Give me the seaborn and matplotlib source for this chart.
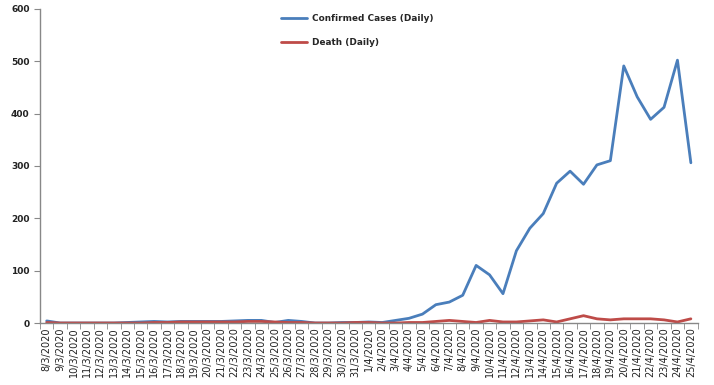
import pandas as pd
import numpy as np
import matplotlib
matplotlib.use('Agg')
import matplotlib.pyplot as plt
import seaborn as sns
from matplotlib.ticker import MultipleLocator

# daily figures, 8/3/2020 - 25/4/2020
dates = [f"{d}/3/2020" for d in range(8, 32)] + [f"{d}/4/2020" for d in range(1, 26)]

confirmed = [4, 0, 0, 0, 0, 0, 1, 2, 3, 2, 3, 3, 3, 3, 4, 5, 5, 1, 5, 3, 0, 0, 1, 1,
             2, 1, 5, 9, 17, 35, 40, 53, 110, 92, 56, 138, 181, 209, 267, 290, 265,
             302, 310, 491, 432, 389, 412, 502, 306]
deaths = [1, 0, 0, 0, 0, 0, 0, 0, 1, 1, 2, 2, 2, 2, 2, 3, 3, 2, 1, 1, 0, 0, 0, 1,
          1, 0, 0, 1, 1, 3, 5, 3, 1, 5, 2, 2, 4, 6, 2, 8, 14, 8, 6, 8, 8, 8, 6, 2, 8]

series_names = ['Confirmed Cases (Daily)', 'Death (Daily)']
colors = ['#4a7ebb', '#be4b48']

df = pd.DataFrame({'date': dates * 2,
                   'value': confirmed + deaths,
                   'series': [series_names[0]] * len(dates) + [series_names[1]] * len(dates)})

sns.set_style('white')
plt.rcParams['font.family'] = ['DejaVu Sans']

fig, ax = plt.subplots(figsize=(7.14, 3.85), dpi=100)
fig.subplots_adjust(left=0.056, right=0.977, top=0.977, bottom=0.161)

sns.lineplot(data=df, x='date', y='value', hue='series', palette=colors,
             linewidth=2.0, ax=ax, sort=False)

ax.set_xlim(-0.5, len(dates) - 0.5)
ax.set_ylim(0, 600)
ax.yaxis.set_major_locator(MultipleLocator(100))
ax.set_xlabel('')
ax.set_ylabel('')

# category labels centred, tick marks between categories (excel style)
ax.set_xticks(range(len(dates)))
ax.set_xticklabels(dates, rotation=90, fontsize=7, color='#222222',
                   family=['Liberation Sans Narrow', 'DejaVu Sans'])
ax.set_xticks(np.arange(-0.5, len(dates), 1), minor=True)
ax.tick_params(axis='x', which='major', length=0, pad=3)
ax.tick_params(axis='x', which='minor', length=4, color='#888888', direction='out', bottom=True)
ax.tick_params(axis='y', length=4, color='#888888', direction='out', left=True,
               labelsize=6.5, labelcolor='#222222')
for lbl in ax.get_yticklabels():
    lbl.set_fontweight('bold')

for s in ['top', 'right']:
    ax.spines[s].set_visible(False)
for s in ['left', 'bottom']:
    ax.spines[s].set_color('#888888')
    ax.spines[s].set_linewidth(1.0)

leg = ax.legend(loc='upper left', bbox_to_anchor=(0.355, 1.01), frameon=False,
                prop={'size': 6.4, 'weight': 'bold'}, labelspacing=1.7,
                handlelength=2.9, handletextpad=0.5)

plt.savefig('out.png', dpi=100)
